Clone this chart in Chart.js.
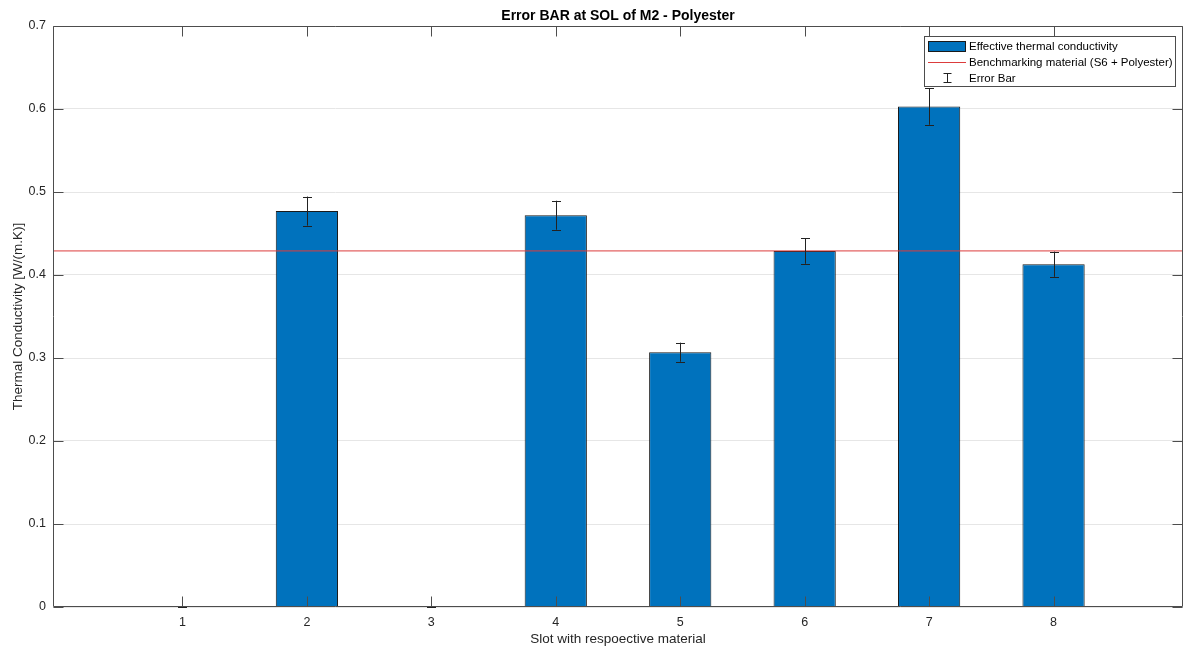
<!DOCTYPE html>
<html>
<head>
<meta charset="utf-8">
<script src="https://cdn.jsdelivr.net/npm/chart.js@4.4.0/dist/chart.umd.min.js"></script>
<style>
html,body{margin:0;padding:0;background:#fff;overflow:hidden}
#wrap{width:1186px;height:653px;position:relative}
</style>
</head>
<body>
<div id="wrap"><canvas id="c" width="1186" height="653"></canvas></div>
<script>
// ---- data ----
const categories = [1, 2, 3, 4, 5, 6, 7, 8];
const xTickLabels = ['1', '2', '3', '4', '5', '6', '7', '8'];
const conductivity = [0, 0.477, 0, 0.472, 0.307, 0.429, 0.603, 0.413];
const errorHalf = [0, 0.0175, 0, 0.0175, 0.0115, 0.0155, 0.022, 0.0152];
const benchmark = 0.429;
const yTicks = [0, 0.1, 0.2, 0.3, 0.4, 0.5, 0.6, 0.7];
const xRange = [-0.04, 9.04];
const yRange = [0, 0.7];

const titleText = 'Error BAR at SOL of M2 - Polyester';
const xTitle = 'Slot with respoective material';
const yTitle = 'Thermal Conductivity [W/(m.K)]';
const barLabel = 'Effective thermal conductivity';
const lineLabel = 'Benchmarking material (S6 + Polyester)';
const errLabel = 'Error Bar';

const FONT = '"Liberation Sans", Arial, Helvetica, sans-serif';
const AXIS_COLOR = '#4d4d4d';
const TEXT_COLOR = '#262626';
const BAR_COLOR = '#0072BD';
const RED = '#dc3c3c';

Chart.defaults.font.family = FONT;

const matlabPlugin = {
  id: 'matlabAxes',
  afterDatasetsDraw(chart) {
    const ctx = chart.ctx;
    const xs = chart.scales.x, ys = chart.scales.y;
    const a = chart.chartArea;
    ctx.save();
    // error bars
    ctx.strokeStyle = '#222';
    ctx.lineWidth = 1;
    categories.forEach((c, i) => {
      const x = Math.round(xs.getPixelForValue(c)) + 0.5;
      const yT = ys.getPixelForValue(conductivity[i] + errorHalf[i]);
      const yB = ys.getPixelForValue(conductivity[i] - errorHalf[i]);
      ctx.beginPath();
      ctx.moveTo(x, yT); ctx.lineTo(x, yB);
      ctx.moveTo(x - 4.5, Math.round(yT) + 0.5); ctx.lineTo(x + 4.5, Math.round(yT) + 0.5);
      ctx.moveTo(x - 4.5, Math.round(yB) + 0.5); ctx.lineTo(x + 4.5, Math.round(yB) + 0.5);
      ctx.stroke();
    });
    // box
    ctx.strokeStyle = AXIS_COLOR;
    const L = Math.round(a.left) + 0.5, R = Math.round(a.right) - 0.5;
    const T = Math.round(a.top) + 0.5, B = Math.round(a.bottom) - 0.5;
    ctx.beginPath();
    ctx.rect(L, T, R - L, B - T);
    ctx.stroke();
    // inward ticks
    const tl = 10;
    ctx.beginPath();
    categories.forEach(c => {
      const x = Math.round(xs.getPixelForValue(c)) + 0.5;
      ctx.moveTo(x, B); ctx.lineTo(x, B - tl);
      ctx.moveTo(x, T); ctx.lineTo(x, T + tl);
    });
    yTicks.forEach(v => {
      const y = Math.round(ys.getPixelForValue(v)) + 0.5;
      ctx.moveTo(L, y); ctx.lineTo(L + tl, y);
      ctx.moveTo(R, y); ctx.lineTo(R - tl, y);
    });
    ctx.stroke();
    ctx.restore();
  },
  afterDraw(chart) {
    const ctx = chart.ctx;
    ctx.save();
    // legend box
    const bx = 924.5, by = 36.5, bw = 251, bh = 50;
    ctx.fillStyle = '#fff';
    ctx.fillRect(bx, by, bw, bh);
    ctx.strokeStyle = AXIS_COLOR;
    ctx.lineWidth = 1;
    ctx.strokeRect(bx, by, bw, bh);
    // swatch
    ctx.fillStyle = BAR_COLOR;
    ctx.fillRect(928, 41, 38, 11);
    ctx.strokeStyle = '#1a1a1a';
    ctx.strokeRect(928.5, 41.5, 37, 10);
    // red line
    ctx.strokeStyle = RED;
    ctx.beginPath(); ctx.moveTo(928, 62.5); ctx.lineTo(966, 62.5); ctx.stroke();
    // error icon
    ctx.strokeStyle = '#222';
    ctx.beginPath();
    ctx.moveTo(947.5, 73); ctx.lineTo(947.5, 83);
    ctx.moveTo(943.5, 73.5); ctx.lineTo(951.5, 73.5);
    ctx.moveTo(943.5, 82.5); ctx.lineTo(951.5, 82.5);
    ctx.stroke();
    // texts
    ctx.fillStyle = '#000';
    ctx.font = '11.5px ' + FONT;
    ctx.textBaseline = 'middle';
    ctx.textAlign = 'left';
    ctx.fillText(chart.data.datasets[0].label, 969, 46.5);
    ctx.fillText(chart.data.datasets[1].label, 969, 62.5);
    ctx.fillText(errLabel, 969, 78.5);
    ctx.restore();
  }
};

new Chart(document.getElementById('c'), {
  type: 'bar',
  data: {
    datasets: [
      {
        type: 'bar',
        label: barLabel,
        data: categories.map((c, i) => ({ x: c, y: conductivity[i] })),
        backgroundColor: BAR_COLOR,
        borderColor: '#1a1a1a',
        borderWidth: 1,
        barPercentage: 0.5,
        categoryPercentage: 1,
        order: 2
      },
      {
        type: 'line',
        label: lineLabel,
        data: xRange.map(x => ({ x: x, y: benchmark })),
        borderColor: RED,
        borderWidth: 1,
        pointRadius: 0,
        fill: false,
        order: 1
      }
    ]
  },
  options: {
    responsive: false,
    animation: false,
    devicePixelRatio: 1,
    layout: { padding: { top: 0, right: 3, left: 0, bottom: 0 } },
    plugins: {
      legend: { display: false },
      tooltip: { enabled: false },
      title: {
        display: true,
        text: titleText,
        fullSize: false,
        color: '#000',
        font: { size: 14, weight: 'bold', family: FONT, lineHeight: 1.2 },
        padding: { top: 8, bottom: 1.2 }
      }
    },
    scales: {
      x: {
        type: 'linear',
        min: xRange[0],
        max: xRange[1],
        offset: false,
        grid: { display: false, drawTicks: false },
        border: { display: false },
        afterBuildTicks: s => { s.ticks = categories.map(v => ({ value: v })); },
        afterFit: s => { s.height = 46; },
        ticks: {
          padding: 8,
          color: TEXT_COLOR,
          font: { size: 12.5, family: FONT },
          maxRotation: 0,
          autoSkip: false,
          callback: (v) => xTickLabels[categories.indexOf(v)] ?? ''
        },
        title: {
          display: true,
          text: xTitle,
          color: TEXT_COLOR,
          font: { size: 13.5, family: FONT, lineHeight: 1.2 },
          padding: { top: 0, bottom: 6 }
        }
      },
      y: {
        min: yRange[0],
        max: yRange[1],
        grid: { color: '#e6e6e6', drawTicks: false, lineWidth: 1 },
        border: { display: false },
        afterBuildTicks: s => { s.ticks = yTicks.map(v => ({ value: v })); },
        afterFit: s => { s.width = 53; },
        ticks: {
          padding: 7,
          color: TEXT_COLOR,
          font: { size: 12.5, family: FONT },
          callback: v => String(+Number(v).toFixed(1))
        },
        title: {
          display: true,
          text: yTitle,
          color: TEXT_COLOR,
          font: { size: 13.5, family: FONT, lineHeight: 1.2 },
          padding: { top: 10, bottom: 0 }
        }
      }
    }
  },
  plugins: [matlabPlugin]
});
</script>
</body>
</html>
